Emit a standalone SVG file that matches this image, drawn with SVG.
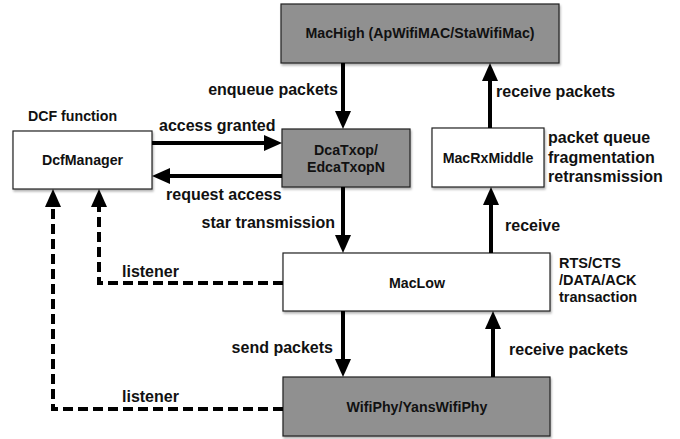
<svg xmlns="http://www.w3.org/2000/svg" width="680" height="439" viewBox="0 0 680 439">
<defs>
<marker id="ah" markerUnits="userSpaceOnUse" markerWidth="18" markerHeight="16" refX="8" refY="8" orient="auto">
<path d="M0,0 L18,8 L0,16 z" fill="#000"/>
</marker>
<filter id="sh" x="-5%" y="-5%" width="112%" height="120%">
<feDropShadow dx="1" dy="2" stdDeviation="1" flood-color="#000" flood-opacity="0.3"/>
</filter>
<style>
.box{stroke:#222;stroke-width:1.2;filter:url(#sh)}
.w{fill:#fff}
.g{fill:#909090}
.t{font-family:"Liberation Sans",Arial,sans-serif;font-weight:bold;fill:#111}
.n{font-size:14.2px;text-anchor:middle}
.l{font-size:16px}
.c{stroke:#000;stroke-width:4;fill:none;marker-end:url(#ah)}
.d{stroke-dasharray:10 5}
</style>
</defs>
<g id="machigh"><rect class="box g" x="281" y="4" width="278" height="59"/><text class="t n" x="420" y="38" font-size="15px">MacHigh (ApWifiMAC/StaWifiMac)</text></g>
<g id="dcfmanager"><rect class="box w" x="13" y="131" width="139" height="58"/><text class="t n" x="82.5" y="165">DcfManager</text></g>
<g id="dcatxop"><rect class="box g" x="282" y="129" width="128" height="58"/><text class="t n" x="346" y="155">DcaTxop/</text><text class="t n" x="346" y="172">EdcaTxopN</text></g>
<g id="macrxmiddle"><rect class="box w" x="432" y="128" width="112" height="59"/><text class="t n" x="488" y="163">MacRxMiddle</text></g>
<g id="maclow"><rect class="box w" x="283" y="253" width="267" height="58"/><text class="t n" x="417" y="288">MacLow</text></g>
<g id="wifiphy"><rect class="box g" x="283" y="377" width="267" height="59"/><text class="t n" x="417" y="412">WifiPhy/YansWifiPhy</text></g>
<g id="connectors">
<line class="c" x1="343" y1="63" x2="343" y2="119"/>
<line class="c" x1="490" y1="128" x2="490" y2="73"/>
<line class="c" x1="152" y1="143" x2="272" y2="143"/>
<line class="c" x1="282" y1="176" x2="162" y2="176"/>
<line class="c" x1="343" y1="187" x2="343" y2="243"/>
<line class="c" x1="491" y1="253" x2="491" y2="197"/>
<line class="c" x1="343" y1="311" x2="343" y2="367"/>
<line class="c" x1="493" y1="377" x2="493" y2="321"/>
<path class="c d" d="M283,283 H99 V199"/>
<path class="c d" d="M283,409 H53 V199"/>
</g>
<g id="labels">
<text class="t" x="28" y="121" font-size="14.2">DCF function</text>
<text class="t l" x="338" y="95" text-anchor="end">enqueue packets</text>
<text class="t l" x="496" y="97">receive packets</text>
<text class="t l" x="159" y="131">access granted</text>
<text class="t l" x="166" y="200">request access</text>
<text class="t l" x="335" y="228" text-anchor="end">star transmission</text>
<text class="t l" x="548" y="143">packet queue</text>
<text class="t l" x="548" y="163">fragmentation</text>
<text class="t l" x="548" y="182">retransmission</text>
<text class="t l" x="505" y="231">receive</text>
<text class="t" x="559" y="268" font-size="14.5">RTS/CTS</text>
<text class="t" x="559" y="285" font-size="14.5">/DATA/ACK</text>
<text class="t" x="559" y="302" font-size="14.5">transaction</text>
<text class="t l" x="122" y="277">listener</text>
<text class="t l" x="333" y="353" text-anchor="end">send packets</text>
<text class="t l" x="509" y="355">receive packets</text>
<text class="t l" x="122" y="402">listener</text>
</g>
</svg>
